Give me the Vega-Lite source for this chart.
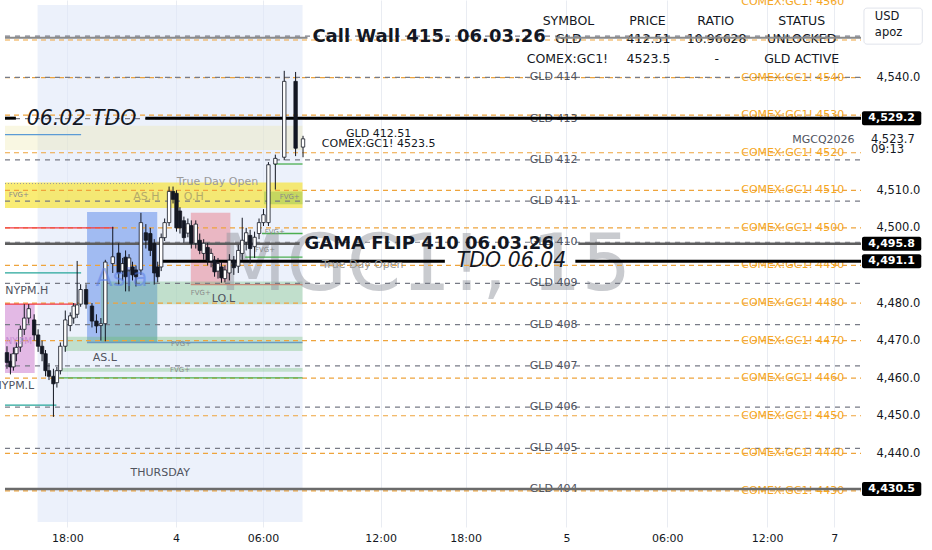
{
  "$schema": "https://vega.github.io/schema/vega-lite/v6.json",
  "width": 866,
  "height": 527,
  "autosize": {"type": "none"},
  "padding": {"left": 0, "top": 0, "right": 66, "bottom": 23},
  "background": "#ffffff",
  "config": {
    "view": {"stroke": null},
    "text": {"font": "DejaVu Sans"},
    "axis": {"labelFont": "DejaVu Sans", "labelColor": "#131722", "domain": false, "ticks": false, "title": null}
  },
  "datasets": {
    "zones": [
      {"zone": "session", "x": 33, "x2": 301, "p": 4421.72, "p2": 4559.32},
      {"zone": "beige", "x": 0, "x2": 301, "p": 4527.2, "p2": 4520.7},
      {"zone": "yellow", "x": 0, "x2": 301, "p": 4512.1, "p2": 4505.3},
      {"zone": "olive", "x": 262, "x2": 301, "p": 4509.7, "p2": 4506.3},
      {"zone": "asia", "x": 83, "x2": 154, "p": 4504.2, "p2": 4469.5},
      {"zone": "red", "x": 188, "x2": 228, "p": 4504.0, "p2": 4484.9},
      {"zone": "pink", "x": 0, "x2": 30, "p": 4479.7, "p2": 4461.4},
      {"zone": "green", "x": 97, "x2": 301, "p": 4485.7, "p2": 4479.7},
      {"zone": "green", "x": 97, "x2": 154, "p": 4479.7, "p2": 4469.5},
      {"zone": "green", "x": 60, "x2": 301, "p": 4471.0, "p2": 4467.2},
      {"zone": "green", "x": 55, "x2": 301, "p": 4462.7, "p2": 4461.7}
    ],
    "levels": [
      {"k": "gld", "x": 0, "x2": 866, "p": 4430.38},
      {"k": "gld", "x": 0, "x2": 866, "p": 4441.34},
      {"k": "gld", "x": 0, "x2": 866, "p": 4452.31},
      {"k": "gld", "x": 0, "x2": 866, "p": 4463.28},
      {"k": "gld", "x": 0, "x2": 866, "p": 4474.24},
      {"k": "gld", "x": 0, "x2": 866, "p": 4485.21},
      {"k": "gld", "x": 0, "x2": 866, "p": 4496.17},
      {"k": "gld", "x": 0, "x2": 866, "p": 4507.14},
      {"k": "gld", "x": 0, "x2": 866, "p": 4518.11},
      {"k": "gld", "x": 0, "x2": 866, "p": 4529.07},
      {"k": "gld", "x": 0, "x2": 866, "p": 4540.04},
      {"k": "gld", "x": 0, "x2": 866, "p": 4551.01},
      {"k": "comex", "x": 0, "x2": 866, "p": 4430},
      {"k": "comex", "x": 0, "x2": 866, "p": 4440},
      {"k": "comex", "x": 0, "x2": 866, "p": 4450},
      {"k": "comex", "x": 0, "x2": 866, "p": 4460},
      {"k": "comex", "x": 0, "x2": 866, "p": 4470},
      {"k": "comex", "x": 0, "x2": 866, "p": 4480},
      {"k": "comex", "x": 0, "x2": 866, "p": 4490},
      {"k": "comex", "x": 0, "x2": 866, "p": 4500},
      {"k": "comex", "x": 0, "x2": 866, "p": 4510},
      {"k": "comex", "x": 0, "x2": 866, "p": 4520},
      {"k": "comex", "x": 0, "x2": 866, "p": 4530},
      {"k": "comex", "x": 0, "x2": 866, "p": 4540},
      {"k": "comex", "x": 0, "x2": 866, "p": 4550},
      {"k": "wall", "x": 0, "x2": 306, "p": 4550.6},
      {"k": "wall", "x": 557, "x2": 866, "p": 4550.6},
      {"k": "tdo", "x": 0, "x2": 11, "p": 4529.2},
      {"k": "tdo", "x": 142, "x2": 866, "p": 4529.2},
      {"k": "tdo", "x": 157, "x2": 445, "p": 4491.1},
      {"k": "tdo", "x": 577, "x2": 866, "p": 4491.1},
      {"k": "gama", "x": 0, "x2": 298, "p": 4495.8},
      {"k": "gama", "x": 580, "x2": 866, "p": 4495.8},
      {"k": "low", "x": 0, "x2": 866, "p": 4430.5},
      {"k": "red", "x": 0, "x2": 110, "p": 4500.0},
      {"k": "red", "x": 0, "x2": 72, "p": 4479.7},
      {"k": "brown", "x": 188, "x2": 301, "p": 4484.9},
      {"k": "teal", "x": 0, "x2": 77, "p": 4488.0},
      {"k": "teal", "x": 0, "x2": 52, "p": 4452.8},
      {"k": "blue", "x": 0, "x2": 77, "p": 4524.8},
      {"k": "green", "x": 272, "x2": 301, "p": 4517.0},
      {"k": "green", "x": 260, "x2": 301, "p": 4498.5},
      {"k": "green", "x": 243, "x2": 301, "p": 4492.2},
      {"k": "green", "x": 55, "x2": 301, "p": 4460.1},
      {"k": "steel", "x": 83, "x2": 301, "p": 4469.5},
      {"k": "dotted", "x": 0, "x2": 150, "p": 4511.8}
    ],
    "candles": [
      {"x": 2, "o": 4466.8, "h": 4468.5, "l": 4462.5, "c": 4464.2},
      {"x": 5.5, "o": 4464.5, "h": 4466.5, "l": 4461.0, "c": 4463.0},
      {"x": 8.5, "o": 4463.0, "h": 4468.2, "l": 4462.0, "c": 4466.5},
      {"x": 11.5, "o": 4466.5, "h": 4469.5, "l": 4464.5, "c": 4468.2},
      {"x": 15.5, "o": 4468.3, "h": 4474.0, "l": 4467.0, "c": 4473.0},
      {"x": 19.5, "o": 4473.0, "h": 4479.7, "l": 4471.5, "c": 4476.0},
      {"x": 24, "o": 4476.0, "h": 4479.7, "l": 4474.5, "c": 4478.5},
      {"x": 29.5, "o": 4475.5, "h": 4477.0, "l": 4470.0, "c": 4471.5},
      {"x": 33.5, "o": 4471.5, "h": 4473.0, "l": 4467.0, "c": 4468.5},
      {"x": 37.5, "o": 4468.5, "h": 4470.0, "l": 4464.5, "c": 4466.5},
      {"x": 41, "o": 4466.5, "h": 4467.5, "l": 4460.5, "c": 4462.0},
      {"x": 44.5, "o": 4462.0, "h": 4464.0, "l": 4459.5, "c": 4460.5},
      {"x": 49, "o": 4460.5, "h": 4462.5, "l": 4449.7, "c": 4458.5},
      {"x": 52.5, "o": 4458.8, "h": 4463.0, "l": 4457.5, "c": 4462.0},
      {"x": 56, "o": 4462.0, "h": 4469.5, "l": 4461.0, "c": 4468.5},
      {"x": 61, "o": 4468.5, "h": 4478.0, "l": 4467.0, "c": 4475.5},
      {"x": 66, "o": 4474.0, "h": 4477.5, "l": 4472.5, "c": 4476.6},
      {"x": 69.5, "o": 4476.0, "h": 4480.0, "l": 4474.5, "c": 4479.2},
      {"x": 73, "o": 4477.0, "h": 4491.2, "l": 4476.0, "c": 4479.5},
      {"x": 76.5, "o": 4479.7, "h": 4485.0, "l": 4479.0, "c": 4483.6},
      {"x": 82, "o": 4483.6, "h": 4485.0, "l": 4478.5, "c": 4479.7},
      {"x": 88, "o": 4479.2, "h": 4480.0, "l": 4473.5, "c": 4475.2},
      {"x": 92.5, "o": 4475.2, "h": 4477.0, "l": 4472.0, "c": 4473.9},
      {"x": 97, "o": 4474.0, "h": 4476.0, "l": 4470.0, "c": 4474.5},
      {"x": 101.5, "o": 4474.5, "h": 4491.5, "l": 4469.8, "c": 4490.9},
      {"x": 109, "o": 4490.5, "h": 4500.3, "l": 4488.0, "c": 4492.3},
      {"x": 115, "o": 4493.3, "h": 4495.9, "l": 4484.9, "c": 4488.0},
      {"x": 119, "o": 4488.5, "h": 4492.0, "l": 4486.0, "c": 4490.5},
      {"x": 122, "o": 4492.2, "h": 4494.0, "l": 4483.1, "c": 4487.0},
      {"x": 125.5, "o": 4488.8, "h": 4493.0, "l": 4483.1, "c": 4492.0},
      {"x": 129, "o": 4489.6, "h": 4491.0, "l": 4486.0, "c": 4487.5},
      {"x": 132.5, "o": 4488.8, "h": 4490.0, "l": 4484.4, "c": 4487.0},
      {"x": 137.5, "o": 4488.8, "h": 4504.0, "l": 4487.5, "c": 4501.4},
      {"x": 142.5, "o": 4498.7, "h": 4501.0, "l": 4494.5, "c": 4496.7},
      {"x": 147, "o": 4498.5, "h": 4500.0, "l": 4492.5, "c": 4494.0},
      {"x": 151, "o": 4495.9, "h": 4497.0, "l": 4484.9, "c": 4488.0},
      {"x": 154.5, "o": 4489.6, "h": 4491.0, "l": 4485.5, "c": 4487.0},
      {"x": 158, "o": 4489.6, "h": 4498.5, "l": 4488.5, "c": 4497.4},
      {"x": 161.5, "o": 4497.4, "h": 4502.5, "l": 4496.5, "c": 4501.4},
      {"x": 166, "o": 4501.4, "h": 4511.0, "l": 4500.5, "c": 4509.7},
      {"x": 170, "o": 4509.7, "h": 4511.0, "l": 4506.5, "c": 4507.6},
      {"x": 173.5, "o": 4509.2, "h": 4510.0, "l": 4499.0, "c": 4500.0},
      {"x": 177, "o": 4504.5, "h": 4505.5, "l": 4498.5, "c": 4500.0},
      {"x": 181, "o": 4501.9, "h": 4503.0, "l": 4496.0, "c": 4497.4},
      {"x": 185, "o": 4498.6, "h": 4502.5, "l": 4497.5, "c": 4501.1},
      {"x": 188.5, "o": 4500.6, "h": 4502.0, "l": 4494.5, "c": 4495.9},
      {"x": 193, "o": 4495.9, "h": 4502.0, "l": 4494.5, "c": 4501.0},
      {"x": 197, "o": 4496.7, "h": 4498.5, "l": 4493.0, "c": 4494.0},
      {"x": 201, "o": 4493.2, "h": 4497.0, "l": 4491.5, "c": 4495.9},
      {"x": 205, "o": 4494.8, "h": 4496.0, "l": 4490.0, "c": 4491.4},
      {"x": 208.5, "o": 4491.2, "h": 4494.5, "l": 4489.5, "c": 4493.2},
      {"x": 212, "o": 4491.4, "h": 4492.5, "l": 4487.0, "c": 4488.3},
      {"x": 215.5, "o": 4488.5, "h": 4492.0, "l": 4486.5, "c": 4490.5},
      {"x": 219, "o": 4489.6, "h": 4491.0, "l": 4485.4, "c": 4486.7},
      {"x": 222.5, "o": 4486.5, "h": 4490.0, "l": 4485.5, "c": 4488.8},
      {"x": 227, "o": 4488.0, "h": 4493.0, "l": 4486.0, "c": 4491.4},
      {"x": 231.5, "o": 4491.4, "h": 4492.5, "l": 4487.5, "c": 4489.4},
      {"x": 236, "o": 4489.8, "h": 4495.5, "l": 4488.0, "c": 4494.0},
      {"x": 240, "o": 4493.2, "h": 4502.7, "l": 4491.5, "c": 4496.7},
      {"x": 244, "o": 4496.2, "h": 4500.0, "l": 4494.0, "c": 4498.7},
      {"x": 248, "o": 4498.0, "h": 4499.5, "l": 4490.5, "c": 4494.5},
      {"x": 252.5, "o": 4495.0, "h": 4499.0, "l": 4492.0, "c": 4497.5},
      {"x": 257, "o": 4498.5, "h": 4502.5, "l": 4497.0, "c": 4501.4},
      {"x": 261.5, "o": 4501.4, "h": 4505.0, "l": 4500.5, "c": 4503.5},
      {"x": 266.5, "o": 4501.4, "h": 4517.5, "l": 4500.5, "c": 4516.8},
      {"x": 273.5, "o": 4517.0, "h": 4519.5, "l": 4510.2, "c": 4518.5},
      {"x": 282.5, "o": 4518.8, "h": 4541.8, "l": 4518.0, "c": 4539.0},
      {"x": 294, "o": 4539.0, "h": 4541.5, "l": 4519.1, "c": 4521.2},
      {"x": 301.5, "o": 4521.5, "h": 4524.5, "l": 4518.8, "c": 4523.7}
    ],
    "labels": [
      {"k": "gld", "x": 555, "p": 4430.38, "text": "GLD 404"},
      {"k": "gld", "x": 555, "p": 4441.34, "text": "GLD 405"},
      {"k": "gld", "x": 555, "p": 4452.31, "text": "GLD 406"},
      {"k": "gld", "x": 555, "p": 4463.28, "text": "GLD 407"},
      {"k": "gld", "x": 555, "p": 4474.24, "text": "GLD 408"},
      {"k": "gld", "x": 555, "p": 4485.21, "text": "GLD 409"},
      {"k": "gld", "x": 555, "p": 4496.17, "text": "GLD 410"},
      {"k": "gld", "x": 555, "p": 4507.14, "text": "GLD 411"},
      {"k": "gld", "x": 555, "p": 4518.11, "text": "GLD 412"},
      {"k": "gld", "x": 555, "p": 4529.07, "text": "GLD 413"},
      {"k": "gld", "x": 555, "p": 4540.04, "text": "GLD 414"},
      {"k": "gld", "x": 828, "p": 4523.5, "text": "MGCQ2026"},
      {"k": "comex", "x": 797, "p": 4430, "text": "COMEX:GC1! 4430"},
      {"k": "comex", "x": 797, "p": 4440, "text": "COMEX:GC1! 4440"},
      {"k": "comex", "x": 797, "p": 4450, "text": "COMEX:GC1! 4450"},
      {"k": "comex", "x": 797, "p": 4460, "text": "COMEX:GC1! 4460"},
      {"k": "comex", "x": 797, "p": 4470, "text": "COMEX:GC1! 4470"},
      {"k": "comex", "x": 797, "p": 4480, "text": "COMEX:GC1! 4480"},
      {"k": "comex", "x": 797, "p": 4490, "text": "COMEX:GC1! 4490"},
      {"k": "comex", "x": 797, "p": 4500, "text": "COMEX:GC1! 4500"},
      {"k": "comex", "x": 797, "p": 4510, "text": "COMEX:GC1! 4510"},
      {"k": "comex", "x": 797, "p": 4520, "text": "COMEX:GC1! 4520"},
      {"k": "comex", "x": 797, "p": 4530, "text": "COMEX:GC1! 4530"},
      {"k": "comex", "x": 797, "p": 4540, "text": "COMEX:GC1! 4540"},
      {"k": "comex", "x": 797, "p": 4560, "text": "COMEX:GC1! 4560"},
      {"k": "table", "x": 570, "p": 4555.1, "text": "SYMBOL"},
      {"k": "table", "x": 650, "p": 4555.1, "text": "PRICE"},
      {"k": "table", "x": 719, "p": 4555.1, "text": "RATIO"},
      {"k": "table", "x": 806, "p": 4555.1, "text": "STATUS"},
      {"k": "table", "x": 570, "p": 4550.2, "text": "GLD"},
      {"k": "table", "x": 651, "p": 4550.2, "text": "412.51"},
      {"k": "table", "x": 720, "p": 4550.2, "text": "10.96628"},
      {"k": "table", "x": 806, "p": 4550.2, "text": "UNLOCKED"},
      {"k": "table", "x": 569, "p": 4545.0, "text": "COMEX:GC1!"},
      {"k": "table", "x": 651, "p": 4545.0, "text": "4523.5"},
      {"k": "table", "x": 720, "p": 4545.0, "text": "-"},
      {"k": "table", "x": 806, "p": 4545.0, "text": "GLD ACTIVE"},
      {"k": "big", "x": 311, "p": 4550.7, "text": "Call Wall 415. 06.03.26"},
      {"k": "big", "x": 303, "p": 4495.8, "text": "GAMA FLIP 410 06.03.26"},
      {"k": "ital", "x": 22, "p": 4529.0, "text": "06.02 TDO"},
      {"k": "ital", "x": 457, "p": 4491.1, "text": "TDO 06.04"},
      {"k": "info", "x": 378, "p": 4524.9, "text": "GLD 412.51"},
      {"k": "info", "x": 378, "p": 4522.2, "text": "COMEX:GC1! 4523.5"},
      {"k": "zone", "x": 157, "p": 4434.8, "text": "THURSDAY"},
      {"k": "zone", "x": 221, "p": 4481.2, "text": "LO.L"},
      {"k": "zone", "x": 101, "p": 4465.3, "text": "AS.L"},
      {"k": "zone", "x": 22, "p": 4483.3, "text": "NYPM.H"},
      {"k": "zone", "x": 9, "p": 4458.0, "text": "NYPM.L"},
      {"k": "faint", "x": 215, "p": 4512.1, "text": "True Day Open"},
      {"k": "faint", "x": 362, "p": 4490.1, "text": "True Day Open"},
      {"k": "faintY", "x": 143, "p": 4508.1, "text": "AS.H"},
      {"k": "faintY", "x": 191, "p": 4508.1, "text": "O.H"},
      {"k": "tiny", "x": 14, "p": 4508.7, "text": "FVG+"},
      {"k": "tiny", "x": 288, "p": 4508.1, "text": "FVG+"},
      {"k": "tiny", "x": 178, "p": 4469.2, "text": "FVG+"},
      {"k": "tiny", "x": 177, "p": 4462.2, "text": "FVG+"},
      {"k": "tiny", "x": 198, "p": 4482.8, "text": "FVG+"},
      {"k": "tiny", "x": 273, "p": 4499.0, "text": "FVG+"},
      {"k": "tiny", "x": 263, "p": 4494.0, "text": "FVG+"},
      {"k": "asia", "x": 118, "p": 4486.7, "text": "Asia"},
      {"k": "nypm", "x": 14, "p": 4470.0, "text": "NY.PM"},
      {"k": "wm", "x": 425, "p": 4483.6, "text": "MGC1!, 15"},
      {"k": "lft", "x": 876, "p": 4523.5, "text": "4,523.7"},
      {"k": "lft", "x": 876, "p": 4520.7, "text": "09:13"},
      {"k": "lft", "x": 880, "p": 4556.2, "text": "USD"},
      {"k": "lft", "x": 880, "p": 4551.75, "text": "apoz"}
    ],
    "badges": [
      {"x": 867, "x2": 927, "xc": 897, "p": 4529.2, "text": "4,529.2"},
      {"x": 867, "x2": 927, "xc": 897, "p": 4495.8, "text": "4,495.8"},
      {"x": 867, "x2": 927, "xc": 897, "p": 4491.1, "text": "4,491.1"},
      {"x": 867, "x2": 927, "xc": 897, "p": 4430.5, "text": "4,430.5"}
    ],
    "box": [
      {"x": 869, "x2": 928, "p": 4558.5, "p2": 4548.9}
    ]
  },
  "encoding": {
    "x": {
      "field": "x", "type": "quantitative", "title": null,
      "scale": {"domain": [0, 866], "nice": false, "zero": false},
      "axis": {
        "values": [63, 173, 261, 380, 466, 568, 670, 771, 839],
        "labelExpr": "datum.value == 63 ? '18:00' : datum.value == 173 ? '4' : datum.value == 261 ? '06:00' : datum.value == 380 ? '12:00' : datum.value == 466 ? '18:00' : datum.value == 568 ? '5' : datum.value == 670 ? '06:00' : datum.value == 771 ? '12:00' : '7'",
        "grid": true, "gridColor": "#e9ecf2", "labelFontSize": 11, "labelPadding": 5, "labelFlush": false
      }
    },
    "y": {
      "field": "p", "type": "quantitative", "title": null,
      "scale": {"domain": [4421.72, 4559.32], "nice": false, "zero": false},
      "axis": {
        "orient": "right", "values": [4440, 4450, 4460, 4470, 4480, 4500, 4510, 4540],
        "format": ",.1f", "grid": false, "labelFontSize": 11.5, "labelPadding": 10
      }
    }
  },
  "layer": [
    {
      "data": {"name": "zones"},
      "mark": {"type": "rect"},
      "encoding": {
        "x2": {"field": "x2"},
        "y2": {"field": "p2"},
        "fill": {"field": "zone", "type": "nominal", "legend": null,
          "scale": {"domain": ["session", "beige", "yellow", "olive", "asia", "red", "pink", "green"],
            "range": ["#dfe7f8", "#ece6a0", "#f7e440", "#8bc34a", "#6f98ec", "#e8707e", "#cc80d0", "#66bb6a"]}},
        "fillOpacity": {"field": "zone", "type": "nominal", "legend": null,
          "scale": {"type": "ordinal", "domain": ["session", "beige", "yellow", "olive", "asia", "red", "pink", "green"],
            "range": [0.6, 0.3, 0.72, 0.45, 0.6, 0.45, 0.55, 0.32]}}
      }
    },
    {
      "data": {"name": "labels"},
      "transform": [{"filter": "datum.k == 'wm'"}],
      "mark": {"type": "text", "fontSize": 78, "fill": "#9598a1", "opacity": 0.5, "align": "center", "baseline": "alphabetic"},
      "encoding": {"text": {"field": "text"}}
    },
    {
      "data": {"name": "levels"},
      "transform": [{"filter": "datum.k == 'comex'"}],
      "mark": {"type": "rule", "stroke": "#eea43c", "strokeWidth": 1.2, "strokeDash": [5, 4]},
      "encoding": {"x2": {"field": "x2"}}
    },
    {
      "data": {"name": "levels"},
      "transform": [{"filter": "datum.k == 'gld'"}],
      "mark": {"type": "rule", "stroke": "#787b86", "strokeWidth": 1.2, "strokeDash": [5, 5]},
      "encoding": {"x2": {"field": "x2"}}
    },
    {
      "data": {"name": "labels"},
      "transform": [{"filter": "datum.k == 'gld'"}],
      "mark": {"type": "text", "fontSize": 11, "fill": "#50535e", "align": "center", "baseline": "middle"},
      "encoding": {"text": {"field": "text"}}
    },
    {
      "data": {"name": "labels"},
      "transform": [{"filter": "datum.k == 'comex'"}],
      "mark": {"type": "text", "fontSize": 11, "fill": "#f5a623", "align": "center", "baseline": "middle"},
      "encoding": {"text": {"field": "text"}}
    },
    {
      "data": {"name": "labels"},
      "transform": [{"filter": "datum.k == 'table'"}],
      "mark": {"type": "text", "fontSize": 12.5, "fill": "#131722", "align": "center", "baseline": "middle"},
      "encoding": {"text": {"field": "text"}}
    },
    {
      "data": {"name": "levels"},
      "transform": [{"filter": "indexof(['red', 'brown', 'teal', 'blue', 'green', 'steel'], datum.k) >= 0"}],
      "mark": {"type": "rule", "strokeWidth": 1.3},
      "encoding": {
        "x2": {"field": "x2"},
        "stroke": {"field": "k", "type": "nominal", "legend": null,
          "scale": {"domain": ["red", "brown", "teal", "blue", "green", "steel"],
            "range": ["#f23645", "#c98b7a", "#26a69a", "#5b9bd5", "#4caf50", "#6a9ac4"]}}
      }
    },
    {
      "data": {"name": "levels"},
      "transform": [{"filter": "datum.k == 'dotted'"}],
      "mark": {"type": "rule", "stroke": "#9a9a9a", "strokeWidth": 1, "strokeDash": [1, 2]},
      "encoding": {"x2": {"field": "x2"}}
    },
    {
      "data": {"name": "levels"},
      "transform": [{"filter": "datum.k == 'wall'"}],
      "mark": {"type": "rule", "stroke": "#8a8a8a", "strokeWidth": 2},
      "encoding": {"x2": {"field": "x2"}}
    },
    {
      "data": {"name": "levels"},
      "transform": [{"filter": "datum.k == 'low'"}],
      "mark": {"type": "rule", "stroke": "#6b6b6b", "strokeWidth": 2.5},
      "encoding": {"x2": {"field": "x2"}}
    },
    {
      "data": {"name": "levels"},
      "transform": [{"filter": "datum.k == 'gama'"}],
      "mark": {"type": "rule", "stroke": "#5d5d5d", "strokeWidth": 2.5},
      "encoding": {"x2": {"field": "x2"}}
    },
    {
      "data": {"name": "levels"},
      "transform": [{"filter": "datum.k == 'tdo'"}],
      "mark": {"type": "rule", "stroke": "#000000", "strokeWidth": 3},
      "encoding": {"x2": {"field": "x2"}}
    },
    {
      "data": {"name": "candles"},
      "mark": {"type": "rule", "stroke": "#131722", "strokeWidth": 1},
      "encoding": {
        "y": {"field": "l", "type": "quantitative", "title": null},
        "y2": {"field": "h"}
      }
    },
    {
      "data": {"name": "candles"},
      "mark": {"type": "bar", "width": 3.4, "stroke": "#131722", "strokeWidth": 0.8},
      "encoding": {
        "y": {"field": "o", "type": "quantitative", "title": null},
        "y2": {"field": "c"},
        "fill": {"condition": {"test": "datum.c >= datum.o", "value": "#ffffff"}, "value": "#131722"}
      }
    },
    {
      "data": {"name": "labels"},
      "transform": [{"filter": "datum.k == 'big'"}],
      "mark": {"type": "text", "fontSize": 18, "fontWeight": "bold", "fill": "#131722", "align": "left", "baseline": "middle"},
      "encoding": {"text": {"field": "text"}}
    },
    {
      "data": {"name": "labels"},
      "transform": [{"filter": "datum.k == 'ital'"}],
      "mark": {"type": "text", "fontSize": 20.5, "fontStyle": "italic", "fill": "#131722", "align": "left", "baseline": "middle"},
      "encoding": {"text": {"field": "text"}}
    },
    {
      "data": {"name": "labels"},
      "transform": [{"filter": "datum.k == 'info'"}],
      "mark": {"type": "text", "fontSize": 11, "fill": "#131722", "align": "center", "baseline": "middle"},
      "encoding": {"text": {"field": "text"}}
    },
    {
      "data": {"name": "labels"},
      "transform": [{"filter": "datum.k == 'zone'"}],
      "mark": {"type": "text", "fontSize": 11, "fill": "#50535e", "align": "center", "baseline": "middle"},
      "encoding": {"text": {"field": "text"}}
    },
    {
      "data": {"name": "labels"},
      "transform": [{"filter": "datum.k == 'faint'"}],
      "mark": {"type": "text", "fontSize": 11, "fill": "#9a9a9a", "align": "center", "baseline": "middle"},
      "encoding": {"text": {"field": "text"}}
    },
    {
      "data": {"name": "labels"},
      "transform": [{"filter": "datum.k == 'faintY'"}],
      "mark": {"type": "text", "fontSize": 11, "fill": "#b3aa6a", "align": "center", "baseline": "middle"},
      "encoding": {"text": {"field": "text"}}
    },
    {
      "data": {"name": "labels"},
      "transform": [{"filter": "datum.k == 'tiny'"}],
      "mark": {"type": "text", "fontSize": 7, "fill": "#8a8a8a", "align": "center", "baseline": "middle"},
      "encoding": {"text": {"field": "text"}}
    },
    {
      "data": {"name": "labels"},
      "transform": [{"filter": "datum.k == 'asia'"}],
      "mark": {"type": "text", "fontSize": 25, "fill": "#5b7fe6", "opacity": 0.55, "align": "center", "baseline": "middle"},
      "encoding": {"text": {"field": "text"}}
    },
    {
      "data": {"name": "labels"},
      "transform": [{"filter": "datum.k == 'nypm'"}],
      "mark": {"type": "text", "fontSize": 9, "fill": "#c58bd0", "align": "center", "baseline": "middle"},
      "encoding": {"text": {"field": "text"}}
    },
    {
      "data": {"name": "box"},
      "mark": {"type": "rect", "fill": "#ffffff", "stroke": "#e0e3eb", "strokeWidth": 1, "cornerRadius": 3},
      "encoding": {
        "x2": {"field": "x2"},
        "y2": {"field": "p2"}
      }
    },
    {
      "data": {"name": "labels"},
      "transform": [{"filter": "datum.k == 'lft'"}],
      "mark": {"type": "text", "fontSize": 11.5, "fill": "#131722", "align": "left", "baseline": "middle"},
      "encoding": {"text": {"field": "text"}}
    },
    {
      "data": {"name": "badges"},
      "mark": {"type": "bar", "orient": "horizontal", "height": 14, "fill": "#000000", "cornerRadius": 2},
      "encoding": {
        "x2": {"field": "x2"}
      }
    },
    {
      "data": {"name": "badges"},
      "mark": {"type": "text", "fontSize": 11, "fontWeight": "bold", "fill": "#ffffff", "align": "center", "baseline": "middle"},
      "encoding": {
        "x": {"field": "xc", "type": "quantitative", "title": null},
        "text": {"field": "text"}
      }
    }
  ]
}
